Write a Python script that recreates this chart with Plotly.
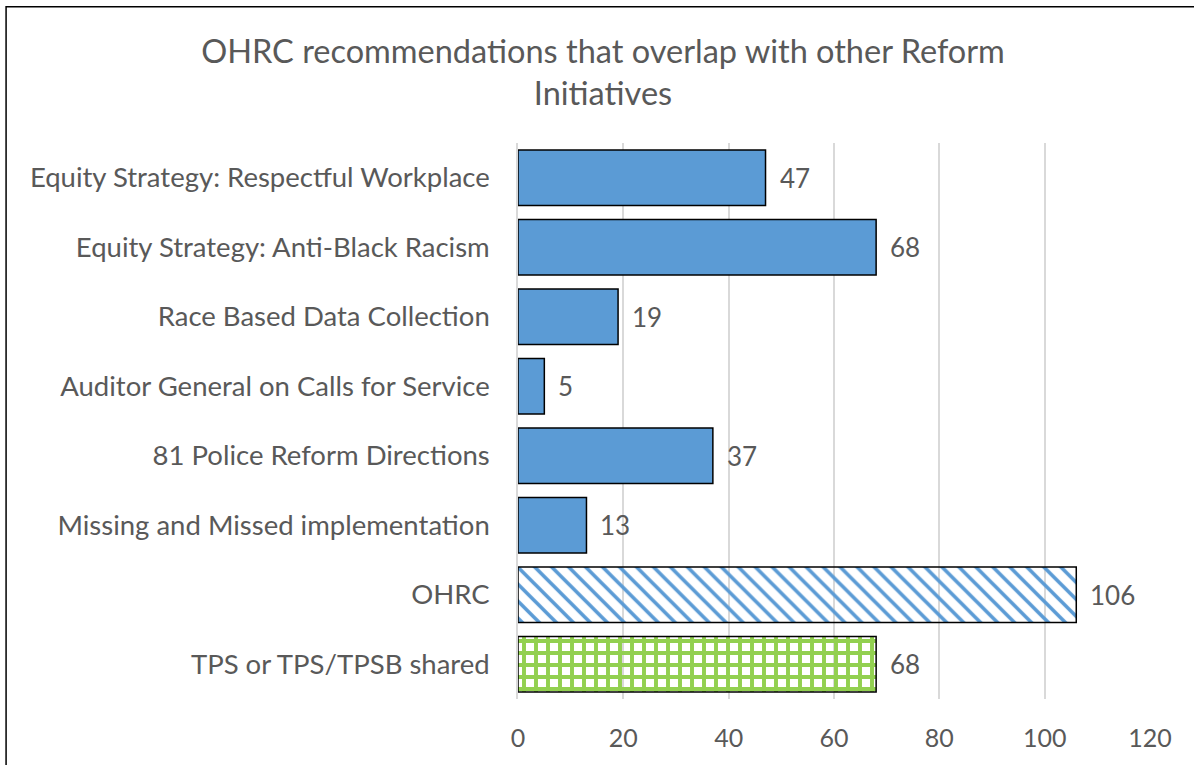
import plotly.graph_objects as go

categories = [
    "Equity Strategy: Respectful Workplace",
    "Equity Strategy: Anti-Black Racism",
    "Race Based Data Collection",
    "Auditor General on Calls for Service",
    "81 Police Reform Directions",
    "Missing and Missed implementation",
    "OHRC",
    "TPS or TPS/TPSB shared",
]
values = [47, 68, 19, 5, 37, 13, 106, 68]
x_ticks = [0, 20, 40, 60, 80, 100, 120]

bar_colors = ["#5B9BD5"] * 6 + ["#5B9BD5", "#92D050"]
pattern_shapes = [""] * 6 + ["\\", "+"]
pattern_bg = ["#5B9BD5"] * 6 + ["white", "white"]
pattern_size = [8] * 6 + [12, 12]
pattern_solid = [0.3] * 6 + [0.3, 0.55]

FONT = "Lato"
TXT = "#595959"

fig = go.Figure()
fig.add_trace(go.Bar(
    y=categories, x=values, orientation="h",
    marker=dict(
        color=bar_colors,
        line=dict(color="black", width=1.5),
        pattern=dict(shape=pattern_shapes, fgcolor=bar_colors, bgcolor=pattern_bg,
                     size=pattern_size, solidity=pattern_solid, fillmode="replace"),
    ),
    hoverinfo="skip",
))

for cat, v in zip(categories, values):
    fig.add_annotation(x=v, y=cat, text=str(v), showarrow=False, xanchor="left",
                       xshift=12, font=dict(size=26, color=TXT, family=FONT))

fig.update_layout(
    width=1194, height=765,
    margin=dict(l=518, r=44, t=143, b=66),
    paper_bgcolor="white", plot_bgcolor="white",
    showlegend=False,
    bargap=0.2,
    title=dict(text="OHRC recommendations that overlap with other Reform<br>Initiatives",
               x=0.505, xanchor="center", y=0.918, yanchor="middle",
               font=dict(size=32.5, color=TXT, family=FONT)),
    font=dict(family=FONT),
)
fig.update_xaxes(range=[0, 120], tickvals=x_ticks, showgrid=True, gridcolor="#D9D9D9",
                 gridwidth=1.5, zeroline=False, showline=False,
                 tickfont=dict(size=25, color=TXT, family=FONT),
                 ticks="outside", ticklen=17, tickcolor="rgba(0,0,0,0)")
fig.update_yaxes(autorange="reversed", showline=True, linecolor="#D9D9D9", linewidth=1.5,
                 tickfont=dict(size=27.5, color=TXT, family=FONT),
                 ticks="outside", ticklen=21, tickcolor="rgba(0,0,0,0)")

fig.add_shape(type="rect", xref="paper", yref="paper",
              x0=-0.81, x1=1.2, y0=-0.3, y1=1.245,
              line=dict(color="black", width=1.5), fillcolor="rgba(0,0,0,0)", layer="below")

fig.write_html("out.html")
